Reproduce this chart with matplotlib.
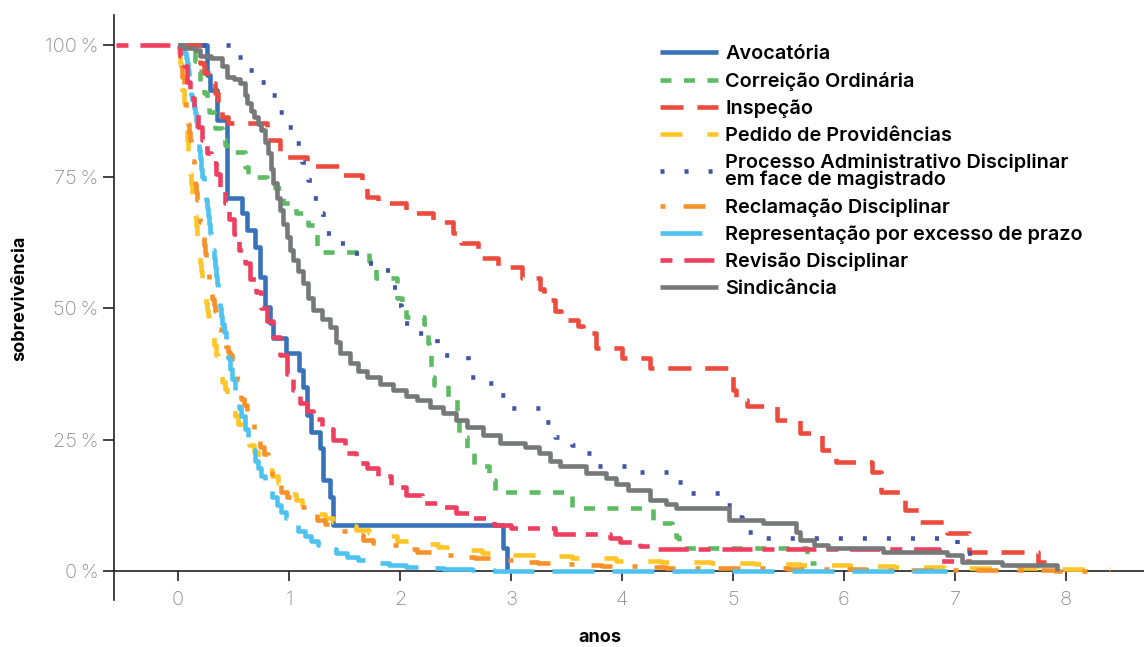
import matplotlib
matplotlib.use('Agg')
import matplotlib.pyplot as plt

plt.rcParams['font.family'] = ['Inter', 'DejaVu Sans']
plt.rcParams['lines.scale_dashes'] = False

# Kaplan-Meier curves: event times (anos) and survival
avoc_t = [0, 0.26, 0.29, 0.35, 0.44, 0.58, 0.62, 0.69, 0.74, 0.78, 0.83, 0.86, 0.97,
          1.09, 1.13, 1.16, 1.20, 1.28, 1.31, 1.37, 1.40, 2.93, 2.96]
avoc_s = [1.0, 0.943, 0.914, 0.857, 0.709, 0.68, 0.648, 0.616, 0.559, 0.502, 0.471, 0.443,
          0.414, 0.382, 0.35, 0.297, 0.264, 0.234, 0.173, 0.141, 0.087, 0.044, 0.0]
avoc_end = 2.96

corr_t = [0, 0.15, 0.18, 0.20, 0.23, 0.26, 0.28, 0.32, 0.33, 0.40, 0.42, 0.44, 0.60, 0.63,
          0.80, 0.87, 0.95, 1.06, 1.17, 1.25, 1.30, 1.72, 1.76, 1.78, 1.97, 2.02, 2.05, 2.22,
          2.24, 2.25, 2.26, 2.28, 2.29, 2.31, 2.43, 2.51, 2.53, 2.60, 2.67, 2.80, 2.84, 2.86,
          3.55, 4.28, 4.45, 4.49, 4.51, 5.67]
corr_s = [1.0, 0.97, 0.95, 0.93, 0.909, 0.89, 0.872, 0.863, 0.842, 0.822, 0.81, 0.797, 0.768,
          0.749, 0.74, 0.728, 0.70, 0.68, 0.658, 0.61, 0.606, 0.59, 0.578, 0.557, 0.519, 0.51,
          0.483, 0.47, 0.452, 0.433, 0.414, 0.388, 0.369, 0.354, 0.329, 0.30, 0.255, 0.226,
          0.20, 0.182, 0.173, 0.15, 0.12, 0.091, 0.084, 0.065, 0.044, 0.015]
corr_end = 5.75

insp_t = [0, 0.20, 0.23, 0.30, 0.33, 0.36, 0.40, 0.45, 0.80, 0.92, 1.16, 1.48, 1.66, 1.70,
          1.80, 2.05, 2.30, 2.48, 2.55, 2.70, 2.88, 3.10, 3.26, 3.30, 3.40, 3.45, 3.60, 3.65,
          3.77, 4.00, 4.25, 5.00, 5.03, 5.13, 5.40, 5.60, 5.80, 5.93, 6.25, 6.33, 6.55, 6.68,
          6.93, 7.13, 7.75]
insp_s = [1.0, 0.966, 0.947, 0.928, 0.909, 0.886, 0.863, 0.852, 0.819, 0.787, 0.770, 0.753,
          0.730, 0.711, 0.700, 0.680, 0.664, 0.643, 0.623, 0.595, 0.578, 0.557, 0.536, 0.515,
          0.495, 0.477, 0.465, 0.452, 0.424, 0.405, 0.386, 0.344, 0.325, 0.314, 0.287, 0.262,
          0.23, 0.207, 0.188, 0.15, 0.116, 0.093, 0.072, 0.036, 0.017]
insp_end = 7.82

ped_t = [0, 0.01, 0.02, 0.03, 0.04, 0.05, 0.06, 0.07, 0.08, 0.09, 0.10, 0.11, 0.12, 0.13,
         0.14, 0.15, 0.16, 0.17, 0.18, 0.19, 0.20, 0.21, 0.22, 0.23, 0.24, 0.25, 0.26, 0.27,
         0.28, 0.29, 0.30, 0.32, 0.34, 0.36, 0.38, 0.40, 0.42, 0.44, 0.46, 0.48, 0.51, 0.54,
         0.57, 0.60, 0.64, 0.68, 0.72, 0.76, 0.80, 0.85, 0.90, 0.95, 1.00, 1.06, 1.12, 1.18,
         1.25, 1.32, 1.40, 1.50, 1.60, 1.72, 1.85, 1.97, 2.15, 2.34, 2.60, 2.74, 2.95, 3.35,
         3.55, 3.95, 4.35, 4.80, 5.20, 5.60, 6.05, 6.45, 6.90, 7.75]
ped_s = [1.0, 0.985, 0.965, 0.94, 0.915, 0.89, 0.87, 0.845, 0.82, 0.795, 0.775, 0.755,
         0.735, 0.715, 0.695, 0.675, 0.655, 0.635, 0.615, 0.60, 0.585, 0.57, 0.555, 0.54,
         0.525, 0.51, 0.497, 0.485, 0.473, 0.462, 0.45, 0.43, 0.41, 0.393, 0.377, 0.36,
         0.347, 0.335, 0.323, 0.312, 0.295, 0.28, 0.267, 0.255, 0.24, 0.227, 0.215, 0.203,
         0.192, 0.18, 0.168, 0.157, 0.147, 0.136, 0.126, 0.117, 0.108, 0.10, 0.093, 0.085,
         0.078, 0.072, 0.066, 0.058, 0.051, 0.045, 0.04, 0.035, 0.031, 0.028, 0.025, 0.019,
         0.017, 0.015, 0.013, 0.011, 0.01, 0.008, 0.006, 0.004]
ped_end = 8.40

pad_t = [0, 0.50, 0.62, 0.74, 0.84, 0.91, 0.99, 1.06, 1.12, 1.17, 1.21, 1.27, 1.31, 1.40,
         1.55, 1.68, 1.80, 1.92, 1.97, 2.01, 2.15, 2.33, 2.61, 2.75, 2.86, 2.96, 3.28, 3.40,
         3.55, 3.65, 3.74, 4.10, 4.45, 4.56, 4.90, 5.00, 5.08, 5.22, 7.02, 7.20]
pad_s = [1.0, 0.977, 0.952, 0.93, 0.905, 0.873, 0.844, 0.813, 0.778, 0.743, 0.709, 0.68,
         0.643, 0.623, 0.604, 0.586, 0.572, 0.54, 0.506, 0.471, 0.452, 0.41, 0.369, 0.357,
         0.335, 0.31, 0.283, 0.255, 0.24, 0.224, 0.2, 0.188, 0.17, 0.148, 0.125, 0.103,
         0.074, 0.063, 0.034, 0.03]
pad_end = 7.30

recl_t = [0, 0.01, 0.02, 0.03, 0.04, 0.05, 0.06, 0.07, 0.08, 0.09, 0.10, 0.11, 0.12, 0.13,
          0.14, 0.15, 0.16, 0.17, 0.18, 0.19, 0.20, 0.21, 0.22, 0.23, 0.24, 0.25, 0.26, 0.27,
          0.28, 0.29, 0.30, 0.31, 0.32, 0.33, 0.34, 0.35, 0.37, 0.39, 0.41, 0.43, 0.45, 0.47,
          0.49, 0.51, 0.53, 0.55, 0.57, 0.59, 0.62, 0.65, 0.68, 0.71, 0.74, 0.77, 0.81, 0.85,
          0.89, 0.93, 0.98, 1.04, 1.10, 1.17, 1.25, 1.32, 1.40, 1.48, 1.57, 1.67, 1.76, 1.85,
          2.00, 2.15, 2.34, 2.50, 2.68, 2.87, 3.05, 3.24, 3.46, 3.70, 3.82, 4.20, 4.40, 5.50,
          6.20, 7.90]
recl_s = [1.0, 0.99, 0.975, 0.96, 0.94, 0.92, 0.90, 0.88, 0.865, 0.85, 0.835, 0.82, 0.80,
          0.78, 0.76, 0.735, 0.72, 0.705, 0.69, 0.675, 0.664, 0.65, 0.635, 0.62, 0.605, 0.59,
          0.578, 0.565, 0.553, 0.54, 0.528, 0.517, 0.505, 0.495, 0.485, 0.475, 0.46, 0.447,
          0.435, 0.425, 0.417, 0.41, 0.403, 0.393, 0.365, 0.345, 0.328, 0.315, 0.302, 0.29,
          0.27, 0.252, 0.236, 0.222, 0.205, 0.185, 0.168, 0.15, 0.14, 0.13, 0.121, 0.112,
          0.097, 0.09, 0.083, 0.077, 0.068, 0.059, 0.054, 0.049, 0.042, 0.036, 0.03, 0.027,
          0.025, 0.021, 0.018, 0.015, 0.013, 0.011, 0.01, 0.008, 0.006, 0.004, 0.002, 0.0005]
recl_end = 8.33

repr_t = [0, 0.05, 0.07, 0.08, 0.09, 0.10, 0.11, 0.12, 0.13, 0.14, 0.15, 0.16, 0.17, 0.18,
          0.19, 0.20, 0.21, 0.22, 0.23, 0.24, 0.25, 0.26, 0.27, 0.28, 0.29, 0.30, 0.31, 0.32,
          0.33, 0.34, 0.35, 0.36, 0.37, 0.38, 0.39, 0.40, 0.41, 0.43, 0.45, 0.47, 0.49, 0.51,
          0.53, 0.55, 0.57, 0.60, 0.63, 0.66, 0.69, 0.72, 0.75, 0.78, 0.81, 0.85, 0.89, 0.93,
          0.97, 1.02, 1.08, 1.14, 1.20, 1.26, 1.33, 1.42, 1.52, 1.62, 1.75, 1.90, 2.05, 2.20,
          2.40, 2.65, 2.85]
repr_s = [1.0, 0.985, 0.975, 0.966, 0.95, 0.935, 0.918, 0.905, 0.895, 0.88, 0.87, 0.855,
          0.84, 0.82, 0.80, 0.785, 0.765, 0.75, 0.735, 0.72, 0.705, 0.69, 0.675, 0.66, 0.643,
          0.625, 0.61, 0.595, 0.578, 0.56, 0.545, 0.53, 0.515, 0.50, 0.485, 0.47, 0.455, 0.43,
          0.405, 0.385, 0.365, 0.345, 0.325, 0.31, 0.295, 0.27, 0.25, 0.23, 0.21, 0.195, 0.18,
          0.166, 0.153, 0.14, 0.126, 0.113, 0.10, 0.088, 0.076, 0.066, 0.057, 0.049, 0.042,
          0.034, 0.027, 0.021, 0.016, 0.011, 0.008, 0.006, 0.004, 0.002, 0.0]
repr_end = 6.93

rev_t = [-0.56, 0.02, 0.05, 0.08, 0.11, 0.14, 0.18, 0.22, 0.26, 0.30, 0.34, 0.38, 0.42,
         0.46, 0.50, 0.55, 0.60, 0.65, 0.70, 0.75, 0.80, 0.86, 0.92, 0.98, 1.04, 1.10, 1.16,
         1.22, 1.30, 1.40, 1.50, 1.60, 1.70, 1.80, 1.92, 2.05, 2.20, 2.35, 2.50, 2.65, 2.85,
         3.00, 3.40, 3.89, 3.98, 4.16, 4.25, 6.86]
rev_s = [1.0, 0.98, 0.96, 0.93, 0.90, 0.87, 0.845, 0.82, 0.795, 0.775, 0.755, 0.73, 0.70,
         0.67, 0.64, 0.61, 0.585, 0.555, 0.53, 0.50, 0.475, 0.445, 0.41, 0.375, 0.345, 0.32,
         0.305, 0.29, 0.27, 0.25, 0.225, 0.205, 0.195, 0.18, 0.16, 0.145, 0.13, 0.122, 0.11,
         0.10, 0.087, 0.082, 0.07, 0.063, 0.055, 0.047, 0.042, 0.02]
rev_end = 7.14

sind_t = [0, 0.05, 0.15, 0.20, 0.30, 0.40, 0.44, 0.50, 0.56, 0.60, 0.62, 0.66, 0.68, 0.72,
          0.75, 0.78, 0.81, 0.84, 0.86, 0.89, 0.92, 0.95, 0.98, 1.01, 1.04, 1.08, 1.13, 1.17,
          1.22, 1.30, 1.37, 1.42, 1.46, 1.55, 1.62, 1.70, 1.82, 1.94, 2.05, 2.15, 2.27, 2.39,
          2.50, 2.60, 2.75, 2.90, 3.13, 3.25, 3.35, 3.44, 3.68, 3.86, 3.95, 4.05, 4.25, 4.40,
          4.49, 4.96, 5.27, 5.57, 5.60, 5.73, 5.86, 6.35, 6.93, 7.06, 7.42, 7.92]
sind_s = [1.0, 0.995, 0.99, 0.98, 0.975, 0.96, 0.94, 0.935, 0.928, 0.905, 0.89, 0.875,
          0.863, 0.85, 0.838, 0.815, 0.795, 0.765, 0.737, 0.71, 0.686, 0.66, 0.635, 0.61,
          0.591, 0.57, 0.547, 0.52, 0.496, 0.48, 0.464, 0.435, 0.414, 0.395, 0.38, 0.369,
          0.355, 0.344, 0.333, 0.325, 0.312, 0.30, 0.287, 0.274, 0.258, 0.243, 0.236, 0.225,
          0.21, 0.20, 0.186, 0.176, 0.165, 0.154, 0.135, 0.128, 0.12, 0.097, 0.091, 0.075,
          0.059, 0.049, 0.044, 0.036, 0.03, 0.017, 0.011, 0.0]
sind_end = 7.92

labels = ['Avocatória', 'Correição Ordinária', 'Inspeção', 'Pedido de Providências',
          'Processo Administrativo Disciplinar\nem face de magistrado',
          'Reclamação Disciplinar', 'Representação por excesso de prazo',
          'Revisão Disciplinar', 'Sindicância']
yticks = [0, 0.25, 0.5, 0.75, 1.0]
ytick_labels = ['0\u202f%', '25\u202f%', '50\u202f%', '75\u202f%', '100\u202f%']
xticks = [0, 1, 2, 3, 4, 5, 6, 7, 8]

series = [(avoc_t, avoc_s, avoc_end), (corr_t, corr_s, corr_end), (insp_t, insp_s, insp_end),
          (ped_t, ped_s, ped_end), (pad_t, pad_s, pad_end), (recl_t, recl_s, recl_end),
          (repr_t, repr_s, repr_end), (rev_t, rev_s, rev_end), (sind_t, sind_s, sind_end)]

# colour and dash pattern (in points) for each series
colors = ['#3873b9', '#5dbb63', '#ee4b3f', '#ffc629', '#4155a5', '#f7922a', '#4ec3f0',
          '#ee3f60', '#76787a']
dashes = [None, (7.9, 9), (16.6, 10), (15.8, 18), (2.9, 14.4), (3.6, 13, 15.8, 14.4),
          (30.2, 13), (8.6, 8.6, 21.6, 7.2), None]

fig = plt.figure(figsize=(11.44, 6.47), dpi=100)
ax = fig.add_axes([114 / 1144, 47 / 647, 1030 / 1144, 585 / 647])

for (t, s, end), lab, col, ds in zip(series, labels, colors, dashes):
    line, = ax.step(t + [end], s + [s[-1]], where='post', color=col, lw=3.3,
                    label=lab, solid_capstyle='butt', zorder=3)
    if ds is not None:
        line.set_dashes(ds)

ax.set_xlim(-0.577, 8.703)
ax.set_ylim(-0.055, 1.057)
ax.spines['top'].set_visible(False)
ax.spines['right'].set_visible(False)
ax.spines['bottom'].set_position(('data', 0))
for sp in ('left', 'bottom'):
    ax.spines[sp].set_color('#222222')
    ax.spines[sp].set_linewidth(1.2)

ax.set_yticks(yticks)
ax.set_yticklabels(ytick_labels)
ax.set_xticks(xticks)
ax.tick_params(axis='y', length=8, width=1.2, pad=3, color='#222222',
               labelsize=14.5, labelcolor='#8c8c8c')
ax.tick_params(axis='x', length=7.5, width=1.2, pad=7, color='#222222',
               labelsize=14.5, labelcolor='#8c8c8c')
for lbl in ax.get_xticklabels() + ax.get_yticklabels():
    lbl.set_fontweight('light')

fig.text(20 / 1144, 1 - 298 / 647, 'sobrevivência', rotation=90, ha='center', va='center',
         fontsize=13, fontweight='bold')
fig.text(600 / 1144, 1 - 637 / 647, 'anos', ha='center', va='center',
         fontsize=13, fontweight='bold')

leg = ax.legend(loc='upper left', bbox_to_anchor=(660 / 1144, 1 - 45 / 647),
                bbox_transform=fig.transFigure, frameon=False, borderpad=0,
                borderaxespad=0, handlelength=2.92, handletextpad=0.36,
                labelspacing=0.44, prop={'size': 14.3, 'weight': 'semibold'})
for txt in leg.get_texts():
    txt.set_linespacing(0.93)

fig.savefig('out.png', dpi=100)
